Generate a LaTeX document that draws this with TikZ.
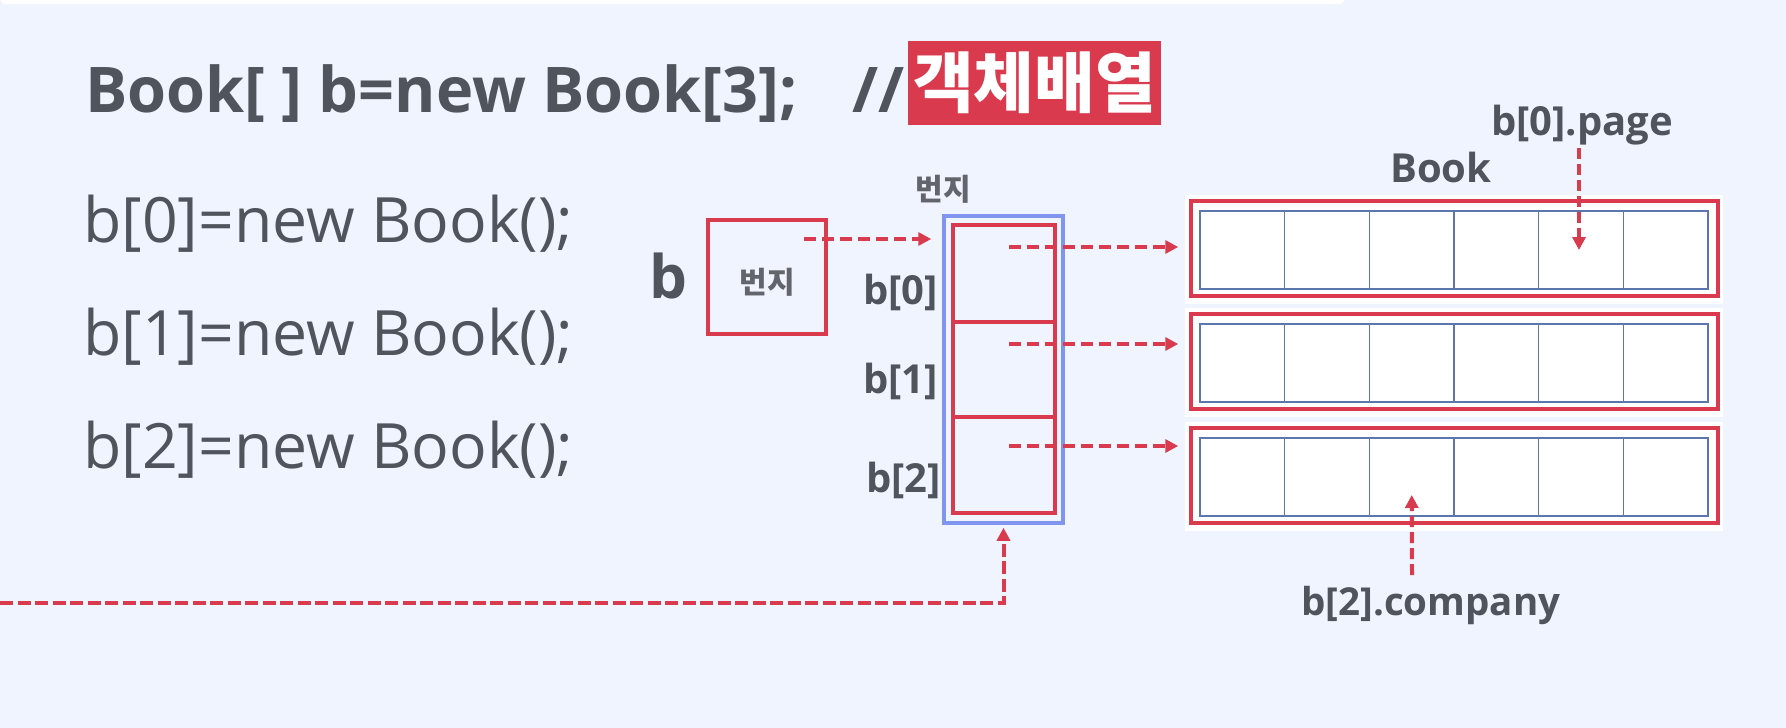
\documentclass[tikz,border=0pt]{standalone}
\usepackage{fontspec}
\setmainfont{Open Sans}
\newfontfamily\kr{Noto Sans CJK KR}
\usetikzlibrary{arrows.meta}
\definecolor{bg}{HTML}{EFF4FE}
\definecolor{ink}{HTML}{50545C}
\definecolor{myred}{HTML}{D93A4E}
\definecolor{colblue}{HTML}{7F95F0}
\definecolor{gridblue}{HTML}{5B77AD}
\definecolor{krgray}{HTML}{62656C}
\tikzset{
  dasharr/.style={draw=myred, line width=4pt, dash pattern=on 12pt off 6pt,
    -{Triangle[length=13pt,width=13pt]}},
  redbox/.style={draw=myred, line width=3.5pt, inner sep=0pt},
  gridcell/.style={draw=gridblue, line width=1.5pt, fill=white, inner sep=0pt,
    minimum width=84.67pt, minimum height=78pt},
  lbl/.style={text=ink, inner sep=0pt, font=\bfseries\fontsize{40}{40}\selectfont},
  krlbl/.style={text=krgray, inner sep=0pt, font=\kr\bfseries\fontsize{30}{30}\selectfont},
}
\begin{document}
\begin{tikzpicture}[x=1pt,y=-1pt]
\useasboundingbox (0,0) rectangle (1786,728);
\fill[bg] (0,0) rectangle (1786,728);
\fill[white, rounded corners=6pt] (0,-12) rectangle (1345,4);

% title
\node[anchor=base west, inner sep=0pt, text=ink, font=\bfseries\fontsize{63}{63}\selectfont] (title) at (85,112) {Book[ ] b=new Book[3];};
\node[anchor=base west, inner sep=0pt, text=ink, font=\bfseries\fontsize{63}{63}\selectfont] (slash) at (852,112) {//};
\node[fill=myred, text=white, inner sep=0pt, minimum width=253pt, minimum height=84pt, font=\kr\bfseries\fontsize{66}{66}\selectfont] (kor) at (1034.5,83) {객체배열};

% code lines
\foreach \i/\yy in {0/242, 1/355, 2/468}
  \node[anchor=base west, inner sep=0pt, text=ink, font=\fontsize{62.5}{62.5}\selectfont] (code\i) at (83,\yy) {b[\i]=new Book();};

% pointer variable
\node[anchor=base west, inner sep=0pt, text=ink, font=\bfseries\fontsize{60}{60}\selectfont] (bname) at (649,298) {b};
\node[draw=myred, line width=4pt, inner sep=0pt, minimum width=118pt, minimum height=114pt] (ptr) at (767,277) {};
\node[krlbl] (ptrtxt) at (767,282) {번지};

% array column
\node[krlbl] (addr) at (943,189) {번지};
\node[draw=colblue, line width=3.5pt, inner sep=0pt, minimum width=119pt, minimum height=307pt] (col) at (1003.5,369.5) {};
\node[redbox, minimum width=102pt, minimum height=97pt] (cell0) at (1004,273.5) {};
\node[redbox, minimum width=102pt, minimum height=95pt] (cell1) at (1004,369.5) {};
\node[redbox, minimum width=102pt, minimum height=96pt] (cell2) at (1004,465) {};
\node[lbl, anchor=base west] (l0) at (863,304) {b[0]};
\node[lbl, anchor=base west] (l1) at (863,393) {b[1]};
\node[lbl, anchor=base west] (l2) at (866,492) {b[2]};

% Book objects
\node[lbl, anchor=base west] (booklbl) at (1390,182) {Book};
\foreach \i/\yy in {0/201, 1/314, 2/428} {
  \fill[white] (1185,\yy-6.5) rectangle (1723,\yy+103);
  \node[redbox, minimum width=527pt, minimum height=95pt] (book\i) at (1454.5,\yy+47.5) {};
  \foreach \j in {0,...,5}
    \node[gridcell] (book\i c\j) at (1242.33+84.67*\j,\yy+49) {};
}

\node[lbl, anchor=base west] (pagelbl) at (1491,135) {b[0].page};
\node[lbl, anchor=base west, font=\bfseries\fontsize{38.5}{38.5}\selectfont] (complbl) at (1301,615) {b[2].company};

% connectors
\coordinate (p0) at (804,239);
\draw[dasharr, shorten >=11pt] (p0) -- (p0 -| col.west);
\foreach \i/\yy in {0/247, 1/344, 2/446} {
  \coordinate (s\i) at (1009,\yy);
  \draw[dasharr, shorten >=11pt] (s\i) -- (s\i -| book\i.west);
}
\coordinate (pg) at (1579,148);
\draw[dasharr, dash pattern=on 11pt off 5pt] (pg) -- (pg |- book0c4.center);
\coordinate (cp) at (1412,575);
\draw[dasharr, dash pattern=on 11pt off 5pt, shorten >=18pt] (cp) -- (book2c2.center);
\coordinate (bl) at (0,603);
\draw[dasharr, dash pattern=on 13pt off 4.5pt, shorten >=3pt] (bl) -| (col.south);
\end{tikzpicture}
\end{document}
